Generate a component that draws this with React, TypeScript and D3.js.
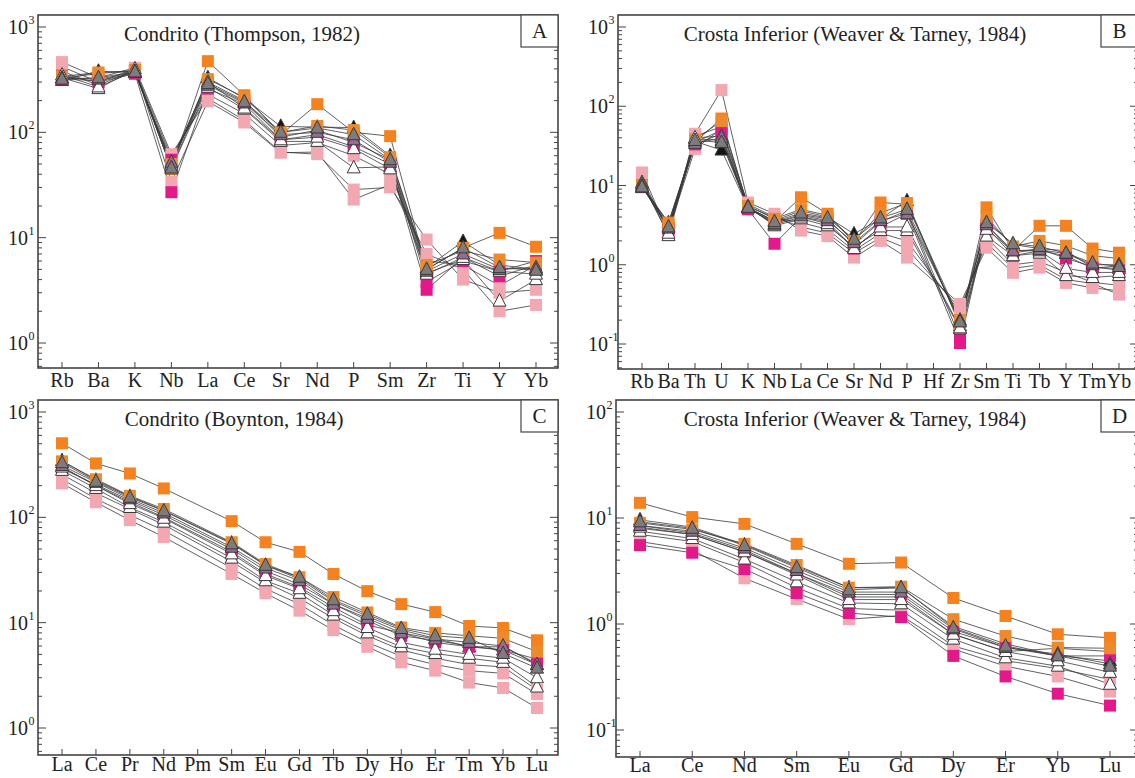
import React from 'react';
import * as d3 from 'd3';

// element lists for each diagram
const elementsA = ['Rb', 'Ba', 'K', 'Nb', 'La', 'Ce', 'Sr', 'Nd', 'P', 'Sm', 'Zr', 'Ti', 'Y', 'Yb'];
const elementsB = ['Rb', 'Ba', 'Th', 'U', 'K', 'Nb', 'La', 'Ce', 'Sr', 'Nd', 'P', 'Hf', 'Zr', 'Sm', 'Ti', 'Tb', 'Y', 'Tm', 'Yb'];
const elementsC = ['La', 'Ce', 'Pr', 'Nd', 'Pm', 'Sm', 'Eu', 'Gd', 'Tb', 'Dy', 'Ho', 'Er', 'Tm', 'Yb', 'Lu'];
const elementsD = ['La', 'Ce', 'Nd', 'Sm', 'Eu', 'Gd', 'Dy', 'Er', 'Yb', 'Lu'];

// normalised values, one row per sample (same sample order in every panel)
const valuesA: (number | null)[][] = [
  [330, 360, 390, 45, 474, 225, 95, 185, 100, 92, 5.0, 8.0, 11.1, 8.2],
  [340, 370, 380, 50, 320, 215, 100, 115, 105, 58, 5.5, 7.5, 6.2, 5.8],
  [310, 380, 370, 48, 330, 210, 114, 112, 111, 60, 5.2, 9.2, 5.5, 5.0],
  [320, 330, 375, 46, 290, 195, 100, 110, 95, 55, 5.0, 8.0, 5.2, 4.9],
  [330, 320, 370, 52, 280, 190, 95, 100, 85, 52, 4.8, 7.0, 5.0, 5.2],
  [330, 260, 400, 45, 268, 166, 82, 82, 46, 47, 4.6, 6.2, 2.5, 4.0],
  [345, 300, 360, 27, 260, 185, 85, 95, 73, 50, 3.2, 6.5, 4.3, 5.5],
  [320, 310, 365, 55, 300, 200, 90, 105, 80, 55, 3.8, 6.0, 4.8, 6.0],
  [464, 330, 410, 62, 210, 130, 65, 62, 28.6, 30, 9.6, 4.0, 3.0, 3.2],
  [420, 300, 400, 34, 197, 124, 64, 65, 23, 32, 7.0, 5.0, 2.0, 2.3],
  [380, 280, 390, 58, 230, 150, 75, 80, 60, 40, 6.0, 5.5, 3.5, 5.5],
  [350, 270, 380, 50, 300, 170, 85, 90, 70, 45, 4.5, 6.5, 4.8, 4.5],
];

const valuesB: (number | null)[][] = [
  [10, 3.4, 35, 70, 5.3, 3.5, 7.1, 4.4, 1.9, 6.1, 5.8, null, 0.18, 5.3, 1.5, 3.1, 3.1, 1.6, 1.42],
  [10, 3.2, 38, 65, 5.5, 3.8, 5.0, 4.2, 2.0, 4.5, 6.0, null, 0.2, 4.0, 1.7, 2.0, 1.74, 1.3, 1.2],
  [9.4, 3.4, 36, 28, 5.2, 3.6, 4.8, 4.0, 2.45, 3.8, 6.4, null, 0.17, 3.6, 1.8, 1.6, 1.5, 0.92, 0.9],
  [9.6, 3.0, 37, 35, 5.3, 3.5, 4.5, 3.9, 2.1, 3.9, 5.0, null, 0.19, 3.4, 1.84, 1.7, 1.4, 1.05, 0.95],
  [10, 2.9, 34, 40, 5.2, 3.3, 4.2, 3.6, 1.9, 3.6, 4.4, null, 0.2, 3.2, 1.5, 1.55, 1.38, 1.0, 1.0],
  [10.9, 2.33, 39, 37, 5.4, 3.1, 3.8, 3.1, 1.7, 2.7, 2.7, null, 0.155, 2.3, 1.3, 1.4, 0.73, 0.69, 0.73],
  [10, 3.0, 33, 45, 5.0, 1.84, 4.0, 3.5, 1.6, 3.0, 4.4, null, 0.103, 3.0, 1.3, 1.5, 1.3, 0.9, 0.97],
  [9.8, 2.8, 35, 50, 5.1, 3.4, 4.3, 3.8, 1.8, 3.5, 4.8, null, 0.12, 3.2, 1.4, 1.6, 1.2, 0.95, 0.85],
  [14.6, 2.5, 45, 160, 6.1, 4.4, 2.7, 2.3, 1.23, 2.0, 1.23, null, 0.32, 1.64, 0.79, 0.92, 0.59, 0.51, 0.47],
  [12, 2.7, 29, 52, 5.8, 4.0, 3.0, 2.5, 1.4, 2.2, 1.6, null, 0.28, 1.9, 0.9, 1.0, 0.65, 0.58, 0.42],
  [11, 2.8, 42, 55, 5.5, 3.9, 3.4, 2.8, 1.5, 2.5, 2.0, null, 0.25, 2.2, 1.0, 1.1, 0.8, 0.6, 0.55],
  [10.5, 2.5, 40, 42, 5.3, 3.2, 4.0, 3.3, 1.6, 3.0, 3.0, null, 0.16, 2.8, 1.5, 1.5, 0.9, 0.8, 0.8],
];

const valuesC: (number | null)[][] = [
  [505, 325, 261, 188, null, 92, 58, 47, 29, 19.9, 15, 12.6, 9.3, 8.9, 6.8],
  [340, 230, 160, 120, null, 58, 36, 27, 17.5, 12.5, 9.0, 8.0, 7.5, 7.1, 5.3],
  [345, 225, 158, 116, null, 57, 35, 26, 16, 11.5, 8.5, 7.1, 5.9, 5.5, 4.0],
  [330, 220, 155, 115, null, 56, 35, 27, 16.5, 12, 8.8, 7.5, 7.1, 5.1, 3.7],
  [310, 215, 150, 110, null, 52, 33, 25, 15, 11, 8, 7, 6.5, 6.0, 4.0],
  [279, 188, 124, 90, null, 41, 25, 19, 11.8, 8, 5.9, 5.1, 4.6, 4.2, 2.45],
  [300, 200, 140, 100, null, 47, 29, 21.7, 14, 9.5, 8, 6.5, 5.9, 5.9, 4.1],
  [290, 205, 145, 105, null, 50, 31, 23, 15, 10.5, 7.5, 6.8, 6.0, 5.5, 4.5],
  [210, 139, 94, 65, null, 29, 19, 13, 8.5, 5.9, 4.2, 3.5, 2.7, 2.4, 1.55],
  [230, 150, 105, 75, null, 33, 21, 15, 9.5, 6.5, 4.8, 4.0, 3.5, 3.3, 2.1],
  [255, 170, 120, 85, null, 38, 24, 17, 11, 7.5, 5.5, 4.6, 4.0, 3.8, 2.3],
  [300, 200, 135, 98, null, 45, 28, 21, 13, 9, 6.5, 5.6, 5.0, 4.6, 3.0],
];

const valuesD: (number | null)[][] = [
  [13.9, 10.2, 8.8, 5.7, 3.7, 3.8, 1.76, 1.19, 0.8, 0.74],
  [9.0, 7.8, 5.7, 3.6, 2.2, 2.25, 1.11, 0.77, 0.6, 0.59],
  [9.6, 8.2, 5.6, 3.5, 2.2, 2.2, 0.95, 0.65, 0.5, 0.45],
  [9.2, 8.0, 5.5, 3.4, 2.1, 2.2, 0.92, 0.62, 0.5, 0.4],
  [8.5, 7.5, 5.2, 3.2, 2.0, 2.0, 0.9, 0.6, 0.52, 0.42],
  [7.5, 6.4, 4.1, 2.5, 1.58, 1.55, 0.72, 0.48, 0.4, 0.27],
  [5.55, 4.7, 3.3, 1.96, 1.27, 1.16, 0.5, 0.32, 0.22, 0.17],
  [8.0, 7.0, 4.8, 3.0, 1.9, 1.9, 0.85, 0.6, 0.5, 0.5],
  [6.0, 5.0, 2.7, 1.72, 1.11, 1.2, 0.58, 0.4, 0.32, 0.23],
  [8.5, 7.2, 5.0, 3.0, 1.8, 1.8, 0.8, 0.55, 0.59, 0.55],
  [7.0, 6.0, 3.8, 2.2, 1.4, 1.35, 0.62, 0.45, 0.38, 0.3],
  [8.2, 7.0, 4.8, 2.9, 1.7, 1.7, 0.8, 0.55, 0.45, 0.35],
];

const SERIF = '"Liberation Serif", "Times New Roman", serif';

// marker style per sample
const markers = [
  { shape: 'square', fill: '#F5821F' },
  { shape: 'square', fill: '#EC8A2C' },
  { shape: 'triangle', fill: '#141414' },
  { shape: 'triangle', fill: '#7c7c7c' },
  { shape: 'triangle', fill: '#966c92' },
  { shape: 'triangle', fill: '#ffffff' },
  { shape: 'square', fill: '#E3198B' },
  { shape: 'square', fill: '#E3198B' },
  { shape: 'square', fill: '#F3A7B0' },
  { shape: 'square', fill: '#F3A7B0' },
  { shape: 'square', fill: '#F3A7B0' },
  { shape: 'triangle', fill: '#ffffff' },
];
const drawOrder = [2, 8, 9, 10, 6, 7, 0, 1, 5, 11, 4, 3];

type PanelProps = {
  elements: string[];
  values: (number | null)[][];
  frame: { left: number; right: number; top: number; bottom: number };
  xFirst: number;
  xLast: number;
  decades: [number, number]; // exponents
  decadeY: [number, number]; // pixel y of those exponents
  title: string;
  titleX: number;
  letter: string;
  labelY: number;
};

const Panel = (p: PanelProps) => {
  const { frame } = p;
  const x = d3.scalePoint<string>().domain(p.elements).range([p.xFirst, p.xLast]);
  const y = d3
    .scaleLog()
    .domain([Math.pow(10, p.decades[0]), Math.pow(10, p.decades[1])])
    .range(p.decadeY);

  const line = d3
    .line<[number, number]>()
    .x((d) => d[0])
    .y((d) => d[1]);

  // decade + minor ticks inside the frame
  const ticks: { v: number; major: boolean }[] = [];
  for (let e = p.decades[0] - 1; e <= p.decades[1]; e++) {
    for (let k = 1; k <= 9; k++) {
      const v = k * Math.pow(10, e);
      const yy = y(v);
      if (yy > frame.top + 1 && yy < frame.bottom - 1) ticks.push({ v, major: k === 1 });
    }
  }
  const exps = d3.range(p.decades[0], p.decades[1] + 1);

  return (
    <g>
      {/* series lines */}
      {p.values.map((row, i) => {
        const pts = row
          .map((v, j) => (v == null ? null : ([x(p.elements[j])!, y(v)] as [number, number])))
          .filter((d) => d != null) as [number, number][];
        return <path key={'l' + i} d={line(pts) || ''} fill="none" stroke="#3a3a3a" strokeWidth={0.8} />;
      })}
      {/* markers */}
      {drawOrder.map((i) => {
        const m = markers[i];
        return p.values[i].map((v, j) => {
          if (v == null) return null;
          const cx = x(p.elements[j])!;
          const cy = y(v);
          if (m.shape === 'square') {
            return <rect key={`m${i}-${j}`} x={cx - 6} y={cy - 6} width={12} height={12} fill={m.fill} />;
          }
          return (
            <path
              key={`m${i}-${j}`}
              d={`M${cx},${cy - 7.5}L${cx + 6.5},${cy + 5}L${cx - 6.5},${cy + 5}Z`}
              fill={m.fill}
              stroke="#3a3a3a"
              strokeWidth={1}
            />
          );
        });
      })}
      {/* frame */}
      <rect
        x={frame.left}
        y={frame.top}
        width={frame.right - frame.left}
        height={frame.bottom - frame.top}
        fill="none"
        stroke="#444"
        strokeWidth={1.6}
      />
      {/* y ticks, both sides, inward */}
      {ticks.map((t, i) => (
        <g key={'t' + i}>
          <line x1={frame.left} x2={frame.left + (t.major ? 8 : 4)} y1={y(t.v)} y2={y(t.v)} stroke="#444" strokeWidth={1} />
          <line x1={frame.right} x2={frame.right - (t.major ? 8 : 4)} y1={y(t.v)} y2={y(t.v)} stroke="#444" strokeWidth={1} />
        </g>
      ))}
      {/* y labels */}
      {exps.map((e) => (
        <g key={'y' + e} fontFamily={SERIF} fill="#222">
          <text x={frame.left - 10} y={y(Math.pow(10, e)) + 7} textAnchor="end" fontSize={20}>
            10
          </text>
          <text x={frame.left - 9.5} y={y(Math.pow(10, e)) - 3} fontSize={12}>
            {e}
          </text>
        </g>
      ))}
      {/* x ticks and labels */}
      {p.elements.map((el) => (
        <g key={'x' + el}>
          <line x1={x(el)} x2={x(el)} y1={frame.bottom} y2={frame.bottom - 6} stroke="#444" strokeWidth={1} />
          <text x={x(el)} y={p.labelY} textAnchor="middle" fontFamily={SERIF} fontSize={20} fill="#222">
            {el}
          </text>
        </g>
      ))}
      {/* title */}
      <text x={p.titleX} y={frame.top + 26} textAnchor="middle" fontFamily={SERIF} fontSize={21} fill="#222">
        {p.title}
      </text>
      {/* panel letter */}
      <rect x={frame.right - 37} y={frame.top} width={37} height={32} fill="#fff" stroke="#444" strokeWidth={1.2} />
      <text x={frame.right - 18.5} y={frame.top + 23} textAnchor="middle" fontFamily={SERIF} fontSize={21} fill="#222">
        {p.letter}
      </text>
    </g>
  );
};

const App = () => {
  return (
    <svg
      width={1135}
      height={778}
      style={{ position: 'absolute', left: 0, top: 0, background: '#fff' }}
    >
      <rect width={1135} height={778} fill="#fff" />
      <Panel
        elements={elementsA}
        values={valuesA}
        frame={{ left: 38, right: 558, top: 15, bottom: 368 }}
        xFirst={62}
        xLast={536}
        decades={[0, 3]}
        decadeY={[343, 27]}
        title="Condrito (Thompson, 1982)"
        titleX={242}
        letter="A"
        labelY={387}
      />
      <Panel
        elements={elementsB}
        values={valuesB}
        frame={{ left: 618, right: 1138, top: 15, bottom: 369 }}
        xFirst={642}
        xLast={1119}
        decades={[-1, 3]}
        decadeY={[344, 27]}
        title="Crosta Inferior (Weaver & Tarney, 1984)"
        titleX={855}
        letter="B"
        labelY={388}
      />
      <Panel
        elements={elementsC}
        values={valuesC}
        frame={{ left: 38, right: 558, top: 400, bottom: 755 }}
        xFirst={62}
        xLast={537}
        decades={[0, 3]}
        decadeY={[728, 412]}
        title="Condrito (Boynton, 1984)"
        titleX={234}
        letter="C"
        labelY={771}
      />
      <Panel
        elements={elementsD}
        values={valuesD}
        frame={{ left: 616, right: 1138, top: 400, bottom: 757 }}
        xFirst={640}
        xLast={1110}
        decades={[-1, 2]}
        decadeY={[730, 412]}
        title="Crosta Inferior (Weaver & Tarney, 1984)"
        titleX={855}
        letter="D"
        labelY={772}
      />
    </svg>
  );
};

export default App;
